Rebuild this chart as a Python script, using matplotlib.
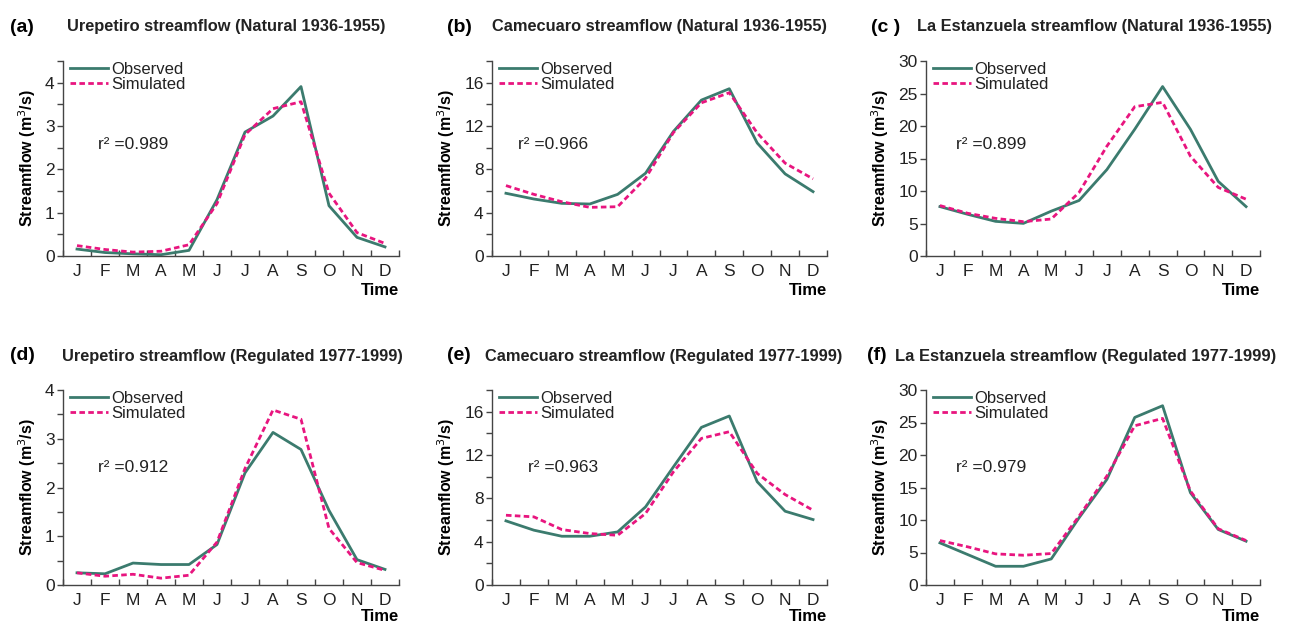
import numpy as np
import matplotlib
matplotlib.use("Agg")
import matplotlib.pyplot as plt

plt.rcParams['font.family'] = ['Liberation Sans', 'DejaVu Sans']

months = ["J", "F", "M", "A", "M", "J", "J", "A", "S", "O", "N", "D"]

# Urepetiro, natural period 1936-1955
urep_nat_obs = [0.16, 0.08, 0.05, 0.03, 0.13, 1.30, 2.86, 3.23, 3.91, 1.16, 0.43, 0.21]
urep_nat_sim = [0.24, 0.15, 0.09, 0.11, 0.26, 1.21, 2.80, 3.40, 3.56, 1.45, 0.54, 0.29]
# Camecuaro, natural period 1936-1955
came_nat_obs = [5.79, 5.26, 4.86, 4.80, 5.69, 7.64, 11.5, 14.39, 15.44, 10.43, 7.58, 5.94]
came_nat_sim = [6.50, 5.69, 5.01, 4.49, 4.55, 7.18, 11.4, 14.14, 15.07, 11.36, 8.57, 7.12]
# La Estanzuela, natural period 1936-1955
esta_nat_obs = [7.6, 6.41, 5.33, 5.02, 6.9, 8.54, 13.3, 19.5, 26.07, 19.5, 11.48, 7.6]
esta_nat_sim = [7.76, 6.57, 5.79, 5.28, 5.69, 9.78, 16.9, 22.97, 23.64, 15.36, 10.55, 8.74]
# Urepetiro, regulated period 1977-1999
urep_reg_obs = [0.25, 0.23, 0.45, 0.42, 0.42, 0.83, 2.30, 3.13, 2.78, 1.53, 0.52, 0.32]
urep_reg_sim = [0.25, 0.18, 0.22, 0.14, 0.20, 0.88, 2.39, 3.59, 3.40, 1.16, 0.46, 0.30]
# Camecuaro, regulated period 1977-1999
came_reg_obs = [5.92, 5.06, 4.50, 4.50, 4.90, 7.21, 10.91, 14.55, 15.60, 9.53, 6.81, 6.04]
came_reg_sim = [6.44, 6.29, 5.12, 4.75, 4.59, 6.60, 10.45, 13.53, 14.15, 10.30, 8.35, 6.90]
# La Estanzuela, regulated period 1977-1999
esta_reg_obs = [6.48, 4.68, 2.88, 2.88, 4.01, 10.34, 16.26, 25.78, 27.58, 14.20, 8.54, 6.74]
esta_reg_sim = [6.84, 5.87, 4.79, 4.58, 4.84, 10.60, 16.78, 24.50, 25.63, 14.46, 8.65, 6.84]

panel_letters = ["(a)", "(b)", "(c )", "(d)", "(e)", "(f)"]
panel_titles = [
    "Urepetiro streamflow (Natural 1936-1955)",
    "Camecuaro streamflow (Natural 1936-1955)",
    "La Estanzuela streamflow (Natural 1936-1955)",
    "Urepetiro streamflow (Regulated 1977-1999)",
    "Camecuaro streamflow (Regulated 1977-1999)",
    "La Estanzuela streamflow (Regulated 1977-1999)",
]
r2_values = ["0.989", "0.966", "0.899", "0.912", "0.963", "0.979"]

observed = [urep_nat_obs, came_nat_obs, esta_nat_obs, urep_reg_obs, came_reg_obs, esta_reg_obs]
simulated = [urep_nat_sim, came_nat_sim, esta_nat_sim, urep_reg_sim, came_reg_sim, esta_reg_sim]

# (ymax, tick step, labelled step)
y_scales = [(4.5, 0.5, 1), (18, 2, 4), (30, 5, 5), (4, 0.5, 1), (18, 2, 4), (30, 5, 5)]

W, H = 1289, 624
fig = plt.figure(figsize=(W / 100, H / 100), dpi=100)

lefts = [63, 492, 926]
widths = [336, 335, 334]
row_tops = [61, 390]
row_bottoms = [256, 585]
title_y = [27, 356]
letter_x = [10, 447, 871, 10, 447, 867]
title_x = [67, 492, 917, 62, 485, 895]
title_size = [11.8, 11.8, 11.8, 11.8, 11.8, 11.9]
r2_x = [0.104, 0.078, 0.09, 0.104, 0.107, 0.09]
r2_y = [0.57, 0.57, 0.57, 0.605, 0.605, 0.605]
time_y = [-0.14, -0.125]

obs_color = "#3b7b6e"
sim_color = "#e8157f"
x = np.arange(len(months))

for i in range(6):
    row, col = divmod(i, 3)
    left = lefts[col] / W
    bottom = 1 - row_bottoms[row] / H
    height = (row_bottoms[row] - row_tops[row]) / H
    ax = fig.add_axes([left, bottom, widths[col] / W, height])

    ax.plot(x, observed[i], color=obs_color, lw=2.0, label="Observed")
    ax.plot(x, simulated[i], color=sim_color, lw=2.0, ls=(0, (2.0, 1.2)), label="Simulated")

    ymax, step, major = y_scales[i]
    ax.set_xlim(-0.5, 11.5)
    ax.set_ylim(0, ymax)
    ticks = np.arange(0, ymax + 1e-9, step)
    labels = [f"{v:g}" if abs(v / major - round(v / major)) < 1e-6 else "" for v in ticks]
    ax.set_yticks(ticks)
    ax.set_yticklabels(labels)
    ax.set_xticks(np.arange(-0.5, 12, 1))
    ax.set_xticklabels([])
    ax.set_xticks(x, minor=True)
    ax.set_xticklabels(months, minor=True)

    for s in ["top", "right"]:
        ax.spines[s].set_visible(False)
    for s in ["left", "bottom"]:
        ax.spines[s].set_color("#444444")
        ax.spines[s].set_linewidth(1.0)
    ax.tick_params(axis="y", direction="out", length=4, width=1.0, color="#444444",
                   labelsize=12.5, pad=2, labelcolor="#222222")
    ax.tick_params(axis="x", which="major", direction="in", length=4, width=1.0, color="#444444")
    ax.tick_params(axis="x", which="minor", length=0, labelsize=12.5, pad=6, labelcolor="#222222")

    ax.set_ylabel("Streamflow (m$^3$/s)", fontsize=11.5, fontweight="bold", labelpad=5)
    ax.text(1.0, time_y[row], "Time", transform=ax.transAxes, ha="right", va="top",
            fontsize=12, fontweight="bold")
    ax.text(r2_x[i], r2_y[i], "r\u00b2 =" + r2_values[i], transform=ax.transAxes,
            ha="left", va="center", fontsize=12.5, color="#222222")

    leg = ax.legend(loc="upper left", bbox_to_anchor=(0.02, 0.995), frameon=False,
                    fontsize=12, handlelength=2.3, handletextpad=0.2, labelspacing=0.0,
                    borderpad=0, borderaxespad=0)
    for t in leg.get_texts():
        t.set_color("#222222")

    fig.text(letter_x[i] / W, 1 - title_y[row] / H, panel_letters[i], fontsize=14,
             fontweight="bold", ha="left", va="center")
    fig.text(title_x[i] / W, 1 - title_y[row] / H, panel_titles[i], fontsize=title_size[i],
             fontweight="bold", ha="left", va="center", color="#222222")

fig.savefig("out.png", dpi=100, facecolor="white")
